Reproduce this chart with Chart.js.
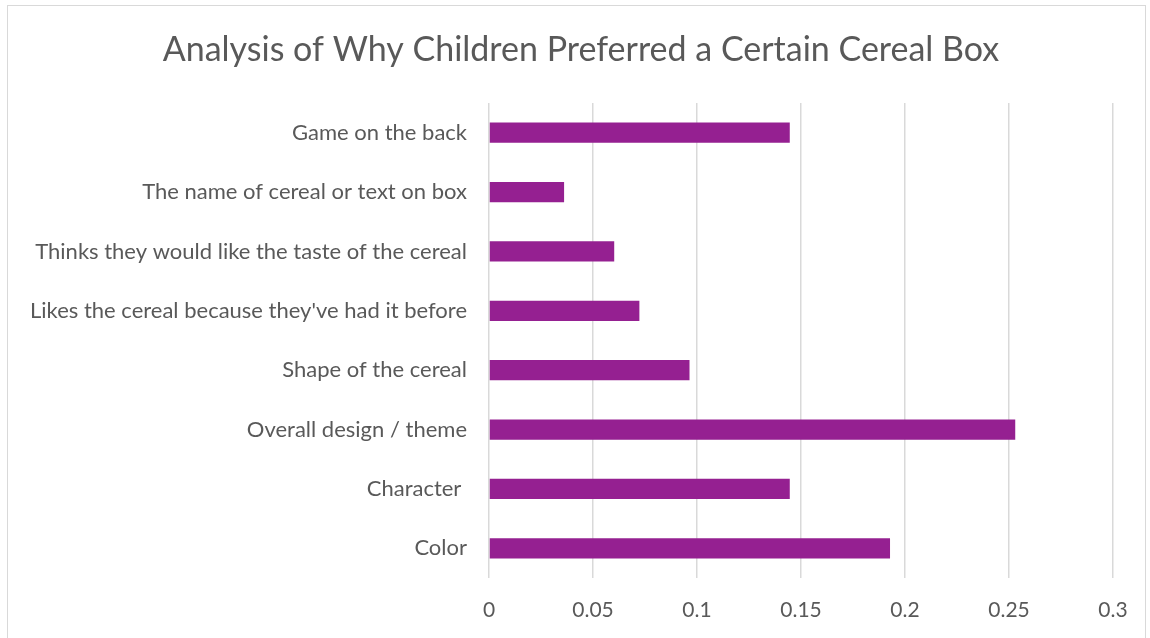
<!DOCTYPE html>
<html lang="en">
<head>
    <meta charset="UTF-8">
    <title>Cereal Box Preference</title>
    <script src="https://cdn.jsdelivr.net/npm/chart.js"></script>
    <style>
        html, body { margin: 0; padding: 0; background: #fff; }
        #wrap { position: relative; width: 1150px; height: 638px; overflow: hidden; }
        #frame {
            position: absolute; left: 7px; top: 5px; width: 1139px; height: 660px;
            border: 1.5px solid #d9d9d9; box-sizing: border-box;
        }
        canvas { position: absolute; left: 0; top: 0; }
    </style>
</head>
<body>
    <div id="wrap">
        <div id="frame"></div>
        <canvas id="cerealChart" width="1150" height="638"></canvas>
    </div>

    <script>
        // reasons, listed top to bottom
        const reasons = [
            'Game on the back',
            'The name of cereal or text on box',
            'Thinks they would like the taste of the cereal',
            "Likes the cereal because they've had it before",
            'Shape of the cereal',
            'Overall design / theme',
            'Character ',
            'Color'
        ];
        // share of children choosing each reason (out of 83)
        const shares = [0.1446, 0.0361, 0.0602, 0.0723, 0.0964, 0.2530, 0.1446, 0.1928];
        const xTicks = [0, 0.05, 0.1, 0.15, 0.2, 0.25, 0.3];

        const chartTitle = 'Analysis of Why Children Preferred a Certain Cereal Box';
        const textColor = '#595959';
        const fontFamily = 'Lato, "Open Sans", sans-serif';

        // title centred over the whole frame, not just the layout box
        const frameTitle = {
            id: 'frameTitle',
            afterDraw(chart) {
                const c = chart.ctx;
                c.save();
                c.fillStyle = textColor;
                c.font = '34px ' + fontFamily;
                c.textAlign = 'center';
                c.textBaseline = 'middle';
                c.fillText(chartTitle, 581, 50);
                c.restore();
            }
        };

        const ctx = document.getElementById('cerealChart').getContext('2d');
        new Chart(ctx, {
            type: 'bar',
            data: {
                labels: reasons,
                datasets: [{
                    data: shares,
                    backgroundColor: '#952091',
                    borderWidth: 0,
                    barPercentage: 0.68,
                    categoryPercentage: 0.5
                }]
            },
            options: {
                indexAxis: 'y',
                responsive: false,
                animation: false,
                layout: { padding: { left: 0, right: 37, top: 103, bottom: 0 } },
                plugins: {
                    legend: { display: false },
                    tooltip: { enabled: false },
                    title: { display: false }
                },
                scales: {
                    x: {
                        min: 0,
                        max: 0.3,
                        afterBuildTicks: (scale) => {
                            scale.ticks = xTicks.map(v => ({ value: v }));
                        },
                        afterFit: (scale) => { scale.height = 60; },
                        ticks: {
                            color: textColor,
                            font: { family: fontFamily, size: 21 },
                            padding: 20,
                            maxRotation: 0,
                            callback: (v) => String(+v.toFixed(2))
                        },
                        grid: { color: '#d9d9d9', lineWidth: 1.5, drawTicks: false },
                        border: { display: false }
                    },
                    y: {
                        afterFit: (scale) => { scale.width = 489; },
                        ticks: {
                            color: textColor,
                            font: { family: fontFamily, size: 22 },
                            padding: 22
                        },
                        grid: { display: false, drawTicks: false },
                        border: { display: false }
                    }
                }
            },
            plugins: [frameTitle]
        });
    </script>
</body>
</html>
